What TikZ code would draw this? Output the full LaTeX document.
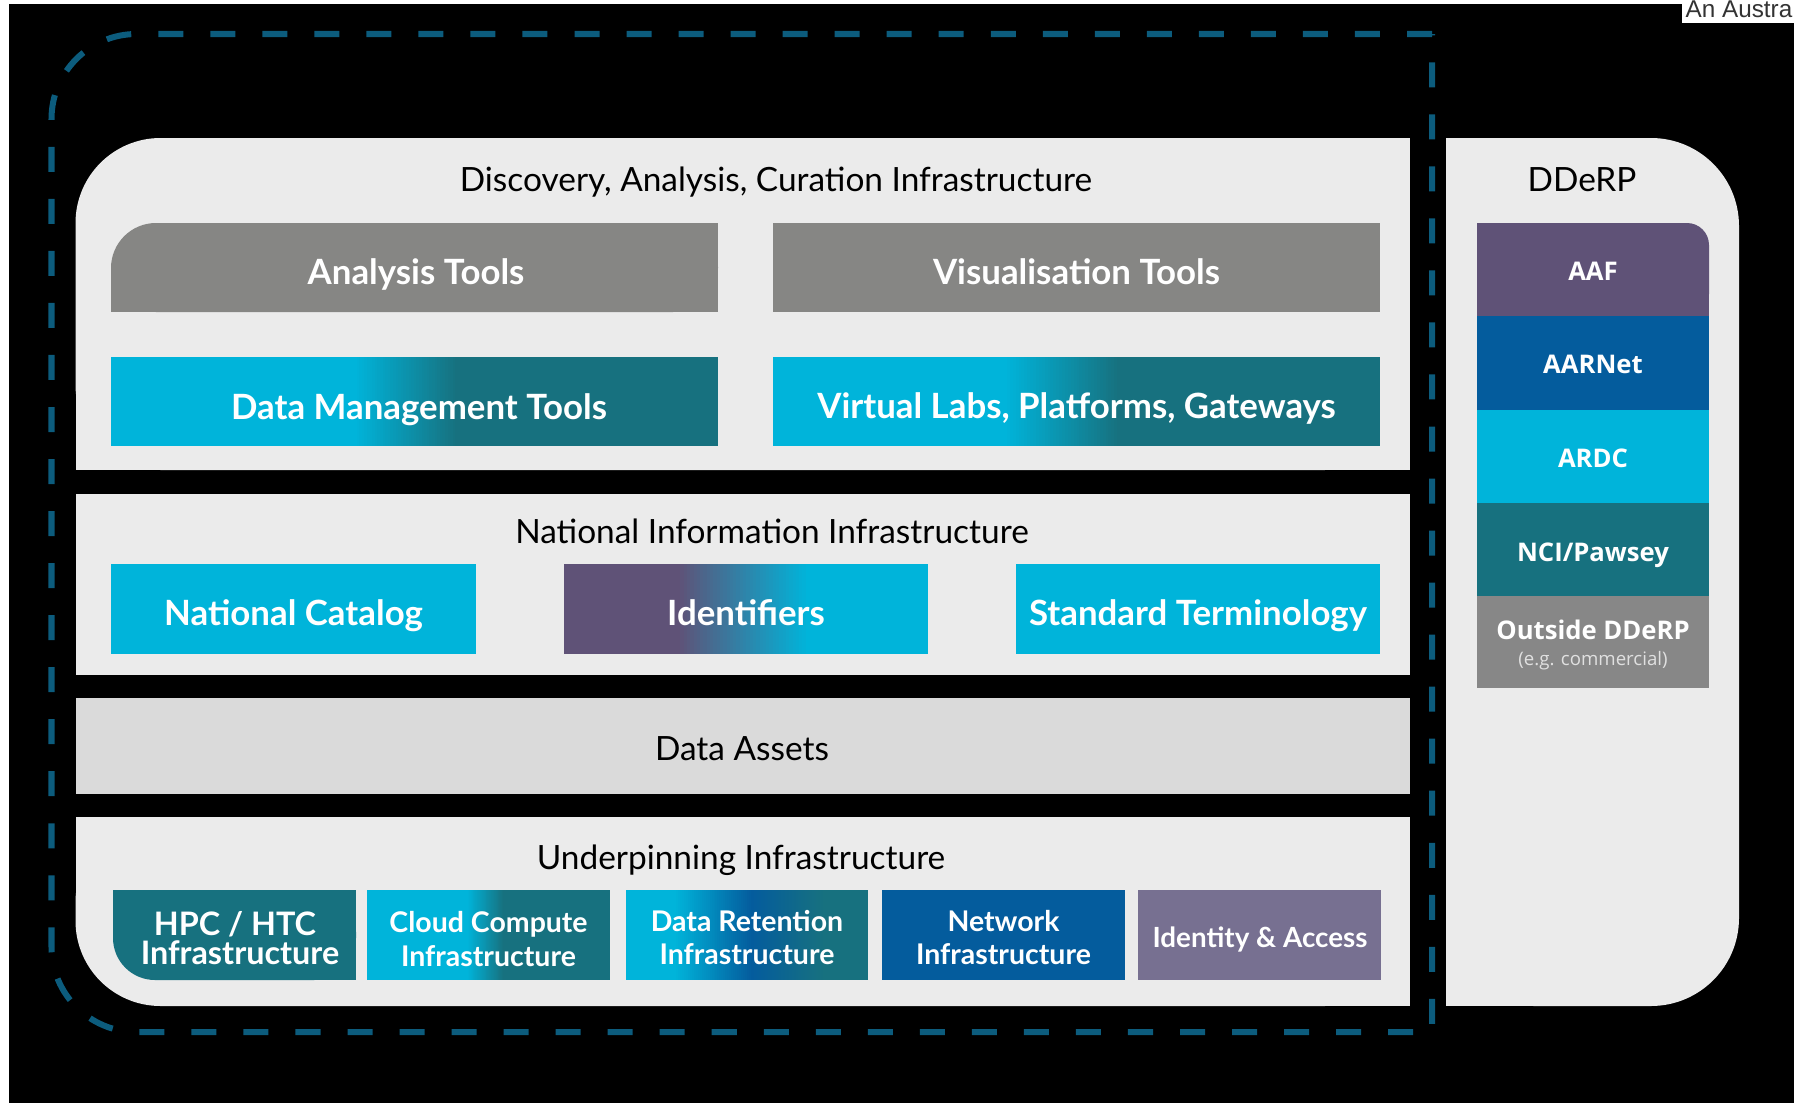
\documentclass[tikz,border=0pt]{standalone}
\usepackage{fontspec}
\setmainfont{Lato}
\newfontfamily\osans{Open Sans}
\newfontfamily\hdrfont{Liberation Sans}
\definecolor{panelc}{HTML}{EBEBEB}
\definecolor{assetc}{HTML}{DADADA}
\definecolor{greyc}{HTML}{868684}
\definecolor{cyanc}{HTML}{00B4DA}
\definecolor{tealc}{HTML}{17717F}
\definecolor{purpc}{HTML}{5F5277}
\definecolor{bluec}{HTML}{045C9D}
\definecolor{lpurpc}{HTML}{777091}
\definecolor{outc}{HTML}{878787}
\definecolor{dashc}{HTML}{0C5C7D}
\newcommand\hgrad[6]{% x1 x2 y1 y2 colA colB
  \foreach \gi in {0,...,39}{%
    \pgfmathsetmacro\gp{100-\gi*100/39}%
    \pgfmathsetmacro\gxa{#1+(#2-#1)*\gi/40}%
    \pgfmathsetmacro\gxb{#1+(#2-#1)*(\gi+1)/40+0.8}%
    \fill[#5!\gp!#6] (\gxa,#3) rectangle (\gxb,#4);
  }}
\tikzset{
  ttl/.style={font=\fontsize{9.5}{12}\selectfont, text=black, inner sep=0pt, anchor=base},
  lbl/.style={font=\bfseries\fontsize{9.9}{11}\selectfont, text=white, inner sep=0pt, anchor=base},
  slbl/.style={font=\bfseries\fontsize{8.1}{12}\selectfont, text=white, inner sep=0pt, anchor=base},
  dlbl/.style={font=\osans\bfseries\fontsize{7.3}{9}\selectfont, text=white, inner sep=0pt, anchor=base},
}
\begin{document}
\begin{tikzpicture}[x=0.01cm, y=-0.01cm]
\useasboundingbox (0,0) rectangle (1794,1103);
\fill[white] (0,0) rectangle (1794,1103);
\fill[black] (9,4) rectangle (1794,1103);
% header snippet
\fill[white] (1682,0) rectangle (1794,23);
\node[anchor=base west, inner sep=0pt, font=\hdrfont\fontsize{6.9}{8}\selectfont, text=black!80] (hdr) at (1685,18) {An Austra};
% dashed outline
\draw[dashc, line width=0.06cm, dash pattern=on 0.25cm off 0.27cm]
  (1432,34) -- (136.5,34) .. controls (89.6,34) and (51.5,72.1) .. (51.5,119)
  -- (51.5,947) .. controls (51.5,993.9) and (89.6,1032) .. (136.5,1032)
  -- (1432,1032) -- cycle;
% top panel (top-left rounded)
\fill[panelc, rounded corners=0.85cm] (75.5,138) rectangle (1409.6,470);
\fill[panelc] (160,138) rectangle (1409.6,470);
\fill[panelc] (75.5,223) rectangle (1409.6,470);
% national info panel
\fill[panelc] (75.5,494) rectangle (1409.6,675);
% data assets
\fill[assetc] (75.5,698) rectangle (1409.6,794);
% underpinning (bottom-left rounded)
\fill[panelc, rounded corners=0.85cm] (75.5,817) rectangle (1409.6,1006);
\fill[panelc] (160,817) rectangle (1409.6,1006);
\fill[panelc] (75.5,817) rectangle (1409.6,921);
% DDeRP panel (right corners rounded)
\fill[panelc, rounded corners=0.88cm] (1446,138) rectangle (1739,1006);
\fill[panelc] (1446,138) rectangle (1600,1006);
% Analysis tools (top-left rounded)
\fill[greyc, rounded corners=0.45cm] (111,223) rectangle (718,312);
\fill[greyc] (156,223) rectangle (718,312);
\fill[greyc] (111,268) rectangle (718,312);
% Visualisation
\fill[greyc] (773,223) rectangle (1380,312);
% Data Management (gradient)
\fill[cyanc] (111,357) rectangle (355,446);
\hgrad{354}{458}{357}{446}{cyanc}{tealc}
\fill[tealc] (457,357) rectangle (718,446);
% Virtual Labs
\fill[cyanc] (773,357) rectangle (1005,446);
\hgrad{1004}{1120}{357}{446}{cyanc}{tealc}
\fill[tealc] (1119,357) rectangle (1380,446);
% National catalog
\fill[cyanc] (111,564) rectangle (476,654);
% Identifiers
\fill[purpc] (564,564) rectangle (678,654);
\hgrad{677}{809}{564}{654}{purpc}{cyanc}
\fill[cyanc] (808,564) rectangle (928,654);
% Standard terminology
\fill[cyanc] (1016,564) rectangle (1380,654);
% HPC (bottom-left rounded)
\fill[tealc, rounded corners=0.42cm] (113,890) rectangle (356,980);
\fill[tealc] (155,890) rectangle (356,980);
\fill[tealc] (113,890) rectangle (356,938);
% Cloud
\fill[cyanc] (367,890) rectangle (468,980);
\hgrad{467}{504}{890}{980}{cyanc}{tealc}
\fill[tealc] (503,890) rectangle (610,980);
% Data Retention
\fill[cyanc] (626,890) rectangle (675,980);
\hgrad{674}{753}{890}{980}{cyanc}{bluec}
\hgrad{752}{825}{890}{980}{bluec}{tealc}
\fill[tealc] (824,890) rectangle (868,980);
% Network
\fill[bluec] (882,890) rectangle (1125,980);
% Identity & Access
\fill[lpurpc] (1138,890) rectangle (1381,980);
% DDeRP column
\fill[purpc, rounded corners=0.22cm] (1477,223) rectangle (1709,316);
\fill[purpc] (1477,223) rectangle (1680,316);
\fill[purpc] (1477,250) rectangle (1709,316);
\fill[bluec] (1477,316) rectangle (1709,410);
\fill[cyanc] (1477,410) rectangle (1709,503);
\fill[tealc] (1477,503) rectangle (1709,596);
\fill[outc] (1477,596) rectangle (1709,688);
% titles
\node[ttl] (t1) at (776,191) {Discovery, Analysis, Curation Infrastructure};
\node[ttl] (t2) at (772,543) {National Information Infrastructure};
\node[ttl] (t3) at (742,760) {Data Assets};
\node[ttl] (t4) at (741,869) {Underpinning Infrastructure};
\node[ttl] (t5) at (1582,191) {DDeRP};
% labels
\node[lbl] (analysis) at (416,284) {Analysis Tools};
\node[lbl] (vis) at (1076.5,284) {Visualisation Tools};
\node[lbl] (dm) at (419,419) {Data Management Tools};
\node[lbl] (vl) at (1076.5,418) {Virtual Labs, Platforms, Gateways};
\node[lbl] (nc) at (293.5,625) {National Catalog};
\node[lbl] (ids) at (746,625) {Identifiers};
\node[lbl] (st) at (1198,625) {Standard Terminology};
\node[lbl, font=\bfseries\fontsize{9.2}{11}\selectfont] (hpc1) at (235,935) {HPC / HTC};
\node[lbl, font=\bfseries\fontsize{9.2}{11}\selectfont] (hpc2) at (240,964) {Infrastructure};
\node[slbl] (cloud1) at (488.5,932) {Cloud Compute};
\node[slbl] (cloud2) at (488.5,966) {Infrastructure};
\node[slbl] (ret1) at (747,931) {Data Retention};
\node[slbl] (ret2) at (747,964) {Infrastructure};
\node[slbl] (net1) at (1003.5,931) {Network};
\node[slbl] (net2) at (1003.5,964) {Infrastructure};
\node[slbl, font=\bfseries\fontsize{7.9}{12}\selectfont] (ida) at (1260,947) {Identity \& Access};
\node[dlbl] (aaf) at (1593,280) {AAF};
\node[dlbl] (aarnet) at (1593,373) {AARNet};
\node[dlbl] (ardc) at (1593,467) {ARDC};
\node[dlbl] (nci) at (1593,561) {NCI/Pawsey};
\node[dlbl] (outs) at (1593,639) {Outside DDeRP};
\node[inner sep=0pt, anchor=base, text=white!88!black, font=\osans\fontsize{5.3}{6}\selectfont] (eg) at (1593,665) {(e.g. commercial)};
\end{tikzpicture}
\end{document}
